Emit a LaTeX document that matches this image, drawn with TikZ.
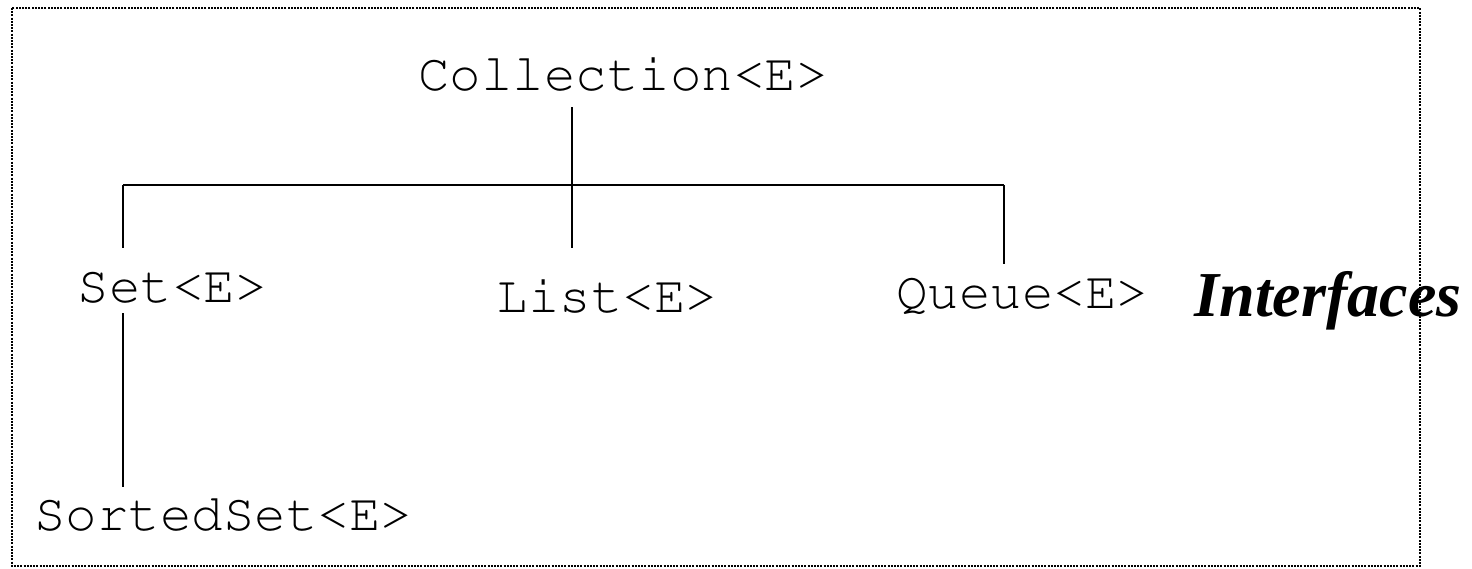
\documentclass[tikz,border=0pt]{standalone}
\usepackage[T1]{fontenc}
\usepackage{fontspec}
\newfontfamily\ifacefont{Liberation Serif}
\newcommand\courfont{\fontencoding{T1}\fontfamily{pcr}\fontseries{m}\fontshape{n}\selectfont}
\usepackage{tikz}
\usetikzlibrary{positioning,calc}
\tikzset{
  iname/.style={anchor=base, inner sep=0pt, font=\courfont\fontsize{26.25}{30}\selectfont},
  ilabel/.style={anchor=base, inner sep=0pt, font=\ifacefont\bfseries\itshape\fontsize{32}{36}\selectfont},
  tline/.style={black, line width=1pt},
  frame/.style={black, line width=0.75pt, dash pattern=on 1pt off 0.6pt}
}
\begin{document}
\begin{tikzpicture}[x=0.5pt, y=-0.5pt]
\useasboundingbox (0,0) rectangle (1472,568);
\draw [frame] (12,8) rectangle (1420,566);
\node [iname] (coll) at (623,90) {Collection<E>};
\node [iname] (set) at (172,302) {Set<E>};
\node [iname] (list) at (607,312) {List<E>};
\node [iname] (queue) at (1022,308) {Queue<E>};
\node [iname] (sorted) at (223,530) {SortedSet<E>};
\node [ilabel] (iface) at (1328,316) {Interfaces};
\coordinate (barl) at (123,185);
\coordinate (barm) at (572,185);
\coordinate (barr) at (1004,185);
\draw [tline] (barl) -- (barr);
\draw [tline] ([yshift=-8.5pt]coll.base -| barm) -- ([yshift=32pt]list.base -| barm);
\draw [tline] (barl) -- ([yshift=27pt]set.base -| barl);
\draw [tline] (barr) -- ([yshift=22pt]queue.base -| barr);
\draw [tline] ([yshift=-5.5pt]set.base -| barl) -- ([yshift=21.5pt]sorted.base -| barl);
\end{tikzpicture}
\end{document}
